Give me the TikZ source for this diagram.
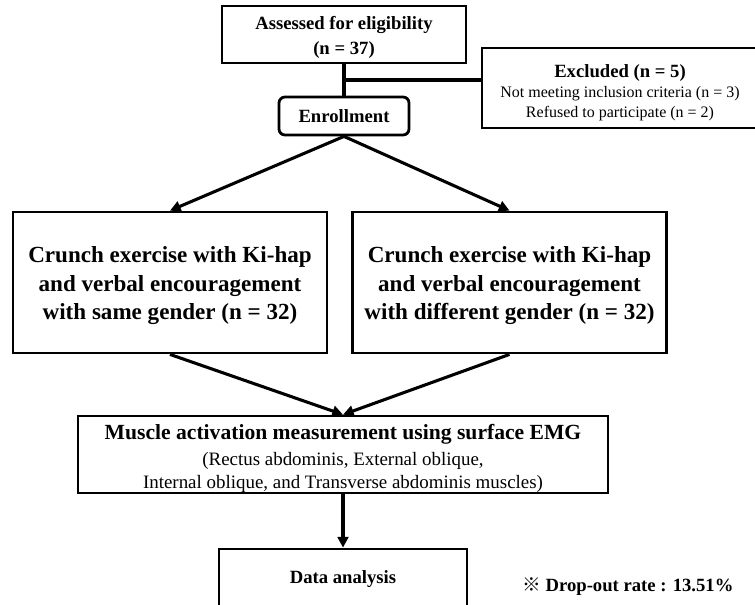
\documentclass[tikz,border=0pt]{standalone}
\usepackage{fontspec}
\setmainfont{Liberation Serif}
\newfontfamily\cjk{Noto Sans CJK KR}
\usetikzlibrary{arrows.meta}
\begin{document}
\begin{tikzpicture}[x=0.75pt,y=-0.75pt,
  box/.style={draw=black,line width=2.1pt,fill=white,inner sep=0pt,align=center},
  txt/.style={inner sep=0pt,align=center},
  conn/.style={line width=2.3pt,black},
  arr/.style={conn,-{Triangle[length=8pt,width=8pt]}},
  fsmall/.style={font=\fontsize{14}{19}\selectfont\bfseries},
  fbig/.style={font=\fontsize{17.3}{21.4}\selectfont\bfseries}]
\useasboundingbox (0,0) rectangle (755,604);
% boxes
\node[box,minimum width=183pt,minimum height=42.75pt] (assess) at (344,34.5) {};
\node[txt,fsmall] (assessT) at (344,37.5) {Assessed for eligibility\\(n = 37)};
\node[box,minimum width=207pt,minimum height=60pt] (excl) at (620,88) {};
\node[txt,font=\fontsize{12}{15}\selectfont] (exclT) at (620,93)
  {{\fontsize{14}{15}\selectfont\bfseries Excluded (n = 5)}\\
   Not meeting inclusion criteria (n = 3)\\
   Refused to participate (n = 2)};
\node[box,fsmall,rounded corners=4.5pt,minimum width=97.5pt,minimum height=28.5pt] (enrol) at (344,116) {Enrollment};
\node[box,minimum width=235.5pt,minimum height=105.75pt] (left) at (170,282.5) {};
\node[txt,fbig] (leftT) at (170,286)
  {Crunch exercise with Ki-hap\\and verbal encouragement\\with same gender (n = 32)};
\node[box,minimum width=235.5pt,minimum height=105.75pt] (right) at (509.5,282.5) {};
\node[txt,fbig] (rightT) at (509.5,286)
  {Crunch exercise with Ki-hap\\and verbal encouragement\\with different gender (n = 32)};
\node[box,minimum width=397.5pt,minimum height=57.75pt] (emg) at (343,454.5) {};
\node[txt,font=\fontsize{16.2}{18}\selectfont\bfseries] (emgT) at (343,434)
  {Muscle activation measurement using surface EMG};
\node[txt,font=\fontsize{14.2}{17.25}\selectfont] (emgS) at (343,472)
  {(Rectus abdominis, External oblique,\\Internal oblique, and Transverse abdominis muscles)};
\node[box,fsmall,minimum width=186pt,minimum height=45pt] (data) at (343,579) {Data analysis};
\node[anchor=west,inner sep=0pt,font=\fontsize{14}{16}\selectfont\bfseries] (drop) at (522,587)
  {{\cjk ※} Drop-out rate : 13.51\%};
% connectors
\coordinate (j) at (344,80);
\draw[conn] (assess.south) -- (enrol.north);
\draw[conn] (j) -- (j -| excl.west);
\draw[arr] (enrol.south) -- (left.north);
\draw[arr] (enrol.south) -- (right.north);
\draw[arr] (left.south) -- (emg.north);
\draw[arr] (right.south) -- (emg.north);
\draw[arr] (emg.south) -- (data.north);
\end{tikzpicture}
\end{document}
